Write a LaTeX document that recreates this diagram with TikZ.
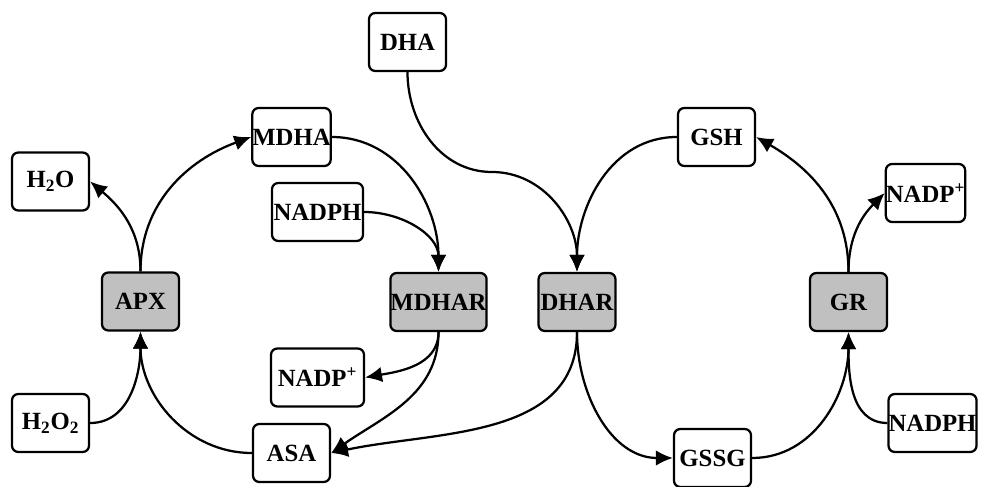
\documentclass[tikz,border=0pt]{standalone}
\usepackage{fontspec}
\setmainfont{Liberation Serif}
\usetikzlibrary{arrows.meta}
\definecolor{enzgray}{RGB}{192,192,192}

\begin{document}
\begin{tikzpicture}[x=0.025cm, y=0.025cm, > = {Latex[length=12pt,width=11pt]},
    box/.style={draw, line width=1.6pt, rounded corners=4.5pt, fill=white, inner sep=0pt,
      minimum width=1.925cm, minimum height=1.45cm, font=\fontsize{17.6}{20}\selectfont\bfseries},
    enzyme/.style={box, fill=enzgray},
    flow/.style={->, line width=1.6pt}]

         \useasboundingbox (0,0) rectangle (981,487);

         \node[box] (H2O) at (50.5,305.5) {H\textsubscript{2}O};
         \node[box] (MDHA) at (291.5,350) {MDHA};
         \node[box, minimum width=2.275cm] (NADPHa) at (317.5,275) {NADPH};
         \node[enzyme] (APX) at (140.5,185.5) {APX};
         \node[enzyme, minimum width=2.325cm] (MDHAR) at (438.5,185) {MDHAR};
         \node[enzyme] (DHAR) at (577,185) {DHAR};
         \node[enzyme] (GR) at (848.5,185) {GR};
         \node[box, minimum width=2.325cm] (NADPa) at (317.5,109.5) {NADP\textsuperscript{+}};
         \node[box] (H2O2) at (50.5,64) {H\textsubscript{2}O\textsubscript{2}};
         \node[box] (ASA) at (291.5,34) {ASA};
         \node[box] (DHA) at (407.5,445) {DHA};
         \node[box] (GSH) at (716.5,350) {GSH};
         \node[box] (NADPb) at (925.5,294) {NADP\textsuperscript{+}};
         \node[box] (GSSG) at (712.5,29) {GSSG};
         \node[box, minimum width=2.2cm] (NADPHb) at (932.5,64) {NADPH};

         \coordinate (dhamid) at (492,315);

         \draw[flow] (APX.north) to[out=90, in=-40] (H2O.east);
         \draw[flow] (APX.north) to[out=90, in=200] (MDHA.west);
         \draw[flow] (MDHA.east) to[out=0, in=90] (MDHAR.north);
         \draw[flow] (NADPHa.east) to[out=0, in=90] (MDHAR.north);
         \draw[flow] (MDHAR.south) to[out=-90, in=10] (NADPa.east);
         \draw[flow] (MDHAR.south) to[out=-90, in=35] (ASA.east);
         \draw[flow] (DHAR.south) to[out=-90, in=12] (ASA.east);
         \draw[flow] (ASA.west) to[out=180, in=-90] (APX.south);
         \draw[flow] (H2O2.east) to[out=0, in=-90] (APX.south);
         \draw[flow] (DHA.south) to[out=-90, in=180] (dhamid) to[out=0, in=90] (DHAR.north);
         \draw[flow] (GSH.west) to[out=180, in=90] (DHAR.north);
         \draw[flow] (DHAR.south) to[out=-90, in=180] (GSSG.west);
         \draw[flow] (GSSG.east) to[out=0, in=-90] (GR.south);
         \draw[flow] (NADPHb.west) to[out=180, in=-90] (GR.south);
         \draw[flow] (GR.north) to[out=90, in=-30] (GSH.east);
         \draw[flow] (GR.north) to[out=90, in=225] (NADPb.west);

\end{tikzpicture}
\end{document}
